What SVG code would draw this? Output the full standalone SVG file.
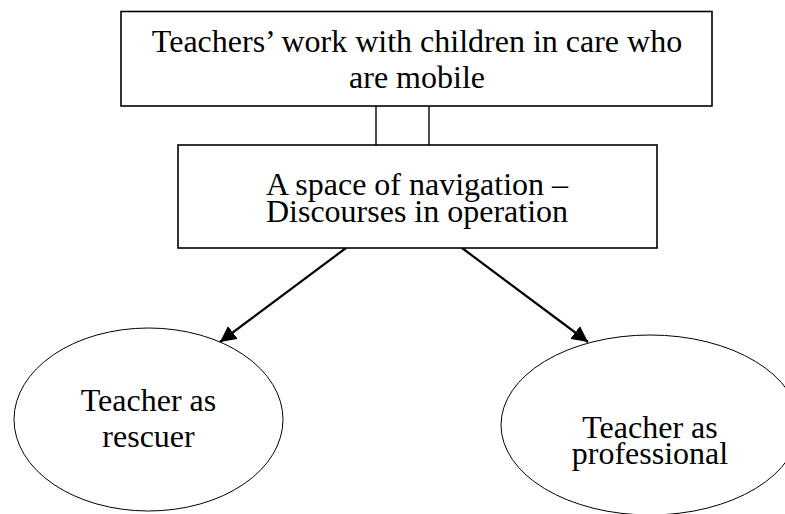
<svg xmlns="http://www.w3.org/2000/svg" width="785" height="514" viewBox="0 0 785 514">
<style>
.box{fill:#fff;stroke:#000;stroke-width:1.6}
.ell{fill:#fff;stroke:#000;stroke-width:1}
.t{font-family:"Liberation Serif","Times New Roman",serif;font-size:32px;fill:#000;text-anchor:middle}
.link{stroke:#000;stroke-width:1.4;fill:none}
.arrow{stroke:#000;stroke-width:2.2;fill:none}
</style>
<defs>
<marker id="ah" viewBox="0 0 10 10" refX="10" refY="5" markerWidth="16" markerHeight="16" markerUnits="userSpaceOnUse" orient="auto">
<path d="M0,0 L10,5 L0,10 z" fill="#000"/>
</marker>
</defs>
<rect width="785" height="514" fill="#fff"/>
<g id="connectors">
<line class="link" x1="376" y1="106" x2="376" y2="145"/>
<line class="link" x1="429" y1="106" x2="429" y2="145"/>
<line class="arrow" x1="346" y1="248" x2="220" y2="342" marker-end="url(#ah)"/>
<line class="arrow" x1="462" y1="248" x2="588" y2="342" marker-end="url(#ah)"/>
</g>
<g id="top">
<rect class="box" x="121" y="11.5" width="591" height="94.5"/>
<text class="t" x="417" y="52">Teachers’ work with children in care who</text>
<text class="t" x="417" y="88">are mobile</text>
</g>
<g id="middle">
<rect class="box" x="178" y="145" width="479" height="103"/>
<text class="t" x="417" y="195">A space of navigation –</text>
<text class="t" x="417" y="222">Discourses in operation</text>
</g>
<g id="rescuer">
<ellipse class="ell" cx="148.5" cy="419.5" rx="134.5" ry="91.5"/>
<text class="t" x="148.5" y="411">Teacher as</text>
<text class="t" x="148.5" y="447">rescuer</text>
</g>
<g id="professional">
<ellipse class="ell" cx="650" cy="425" rx="149" ry="90"/>
<text class="t" x="650" y="438">Teacher as</text>
<text class="t" x="650" y="464">professional</text>
</g>
</svg>
